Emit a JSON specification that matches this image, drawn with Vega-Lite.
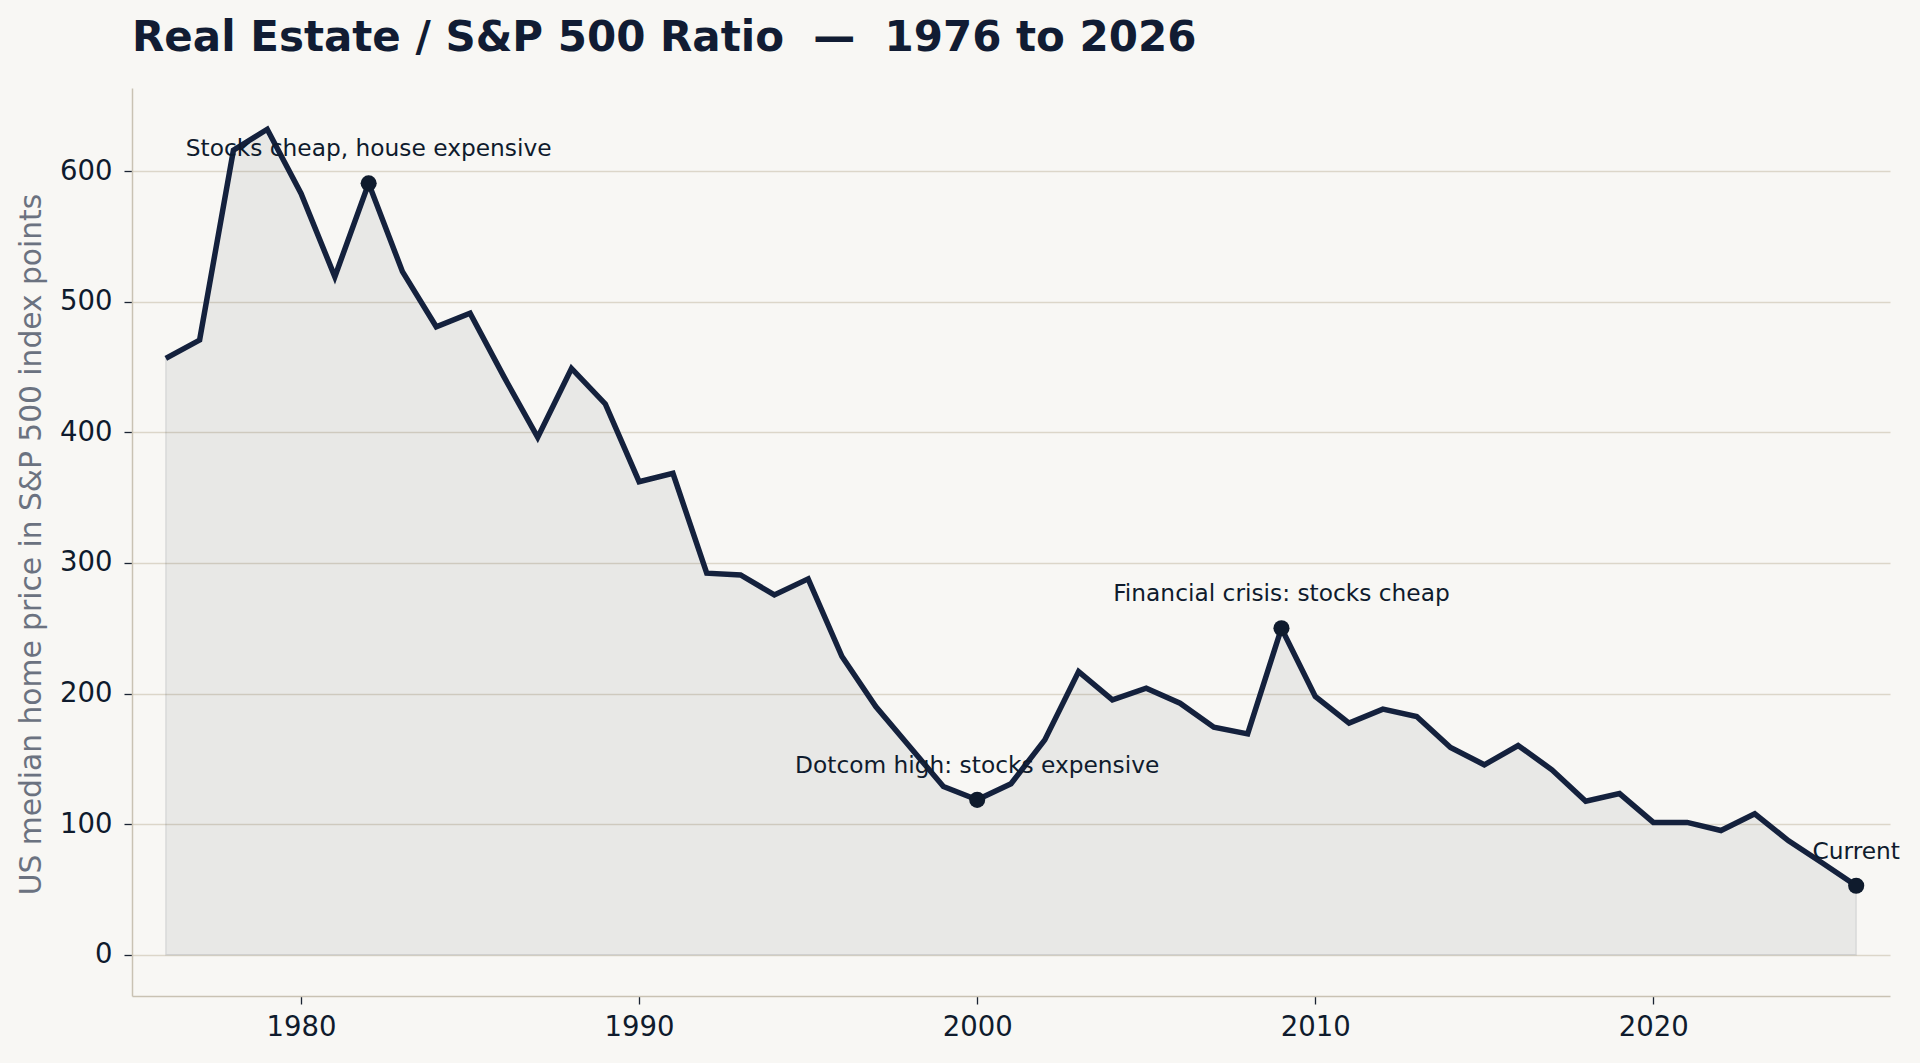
{
  "$schema": "https://vega.github.io/schema/vega-lite/v6.json",
  "autosize": {"type": "none"},
  "width": 1758,
  "height": 908,
  "padding": {"left": 132, "top": 88, "right": 30, "bottom": 67},
  "background": "#f8f7f4",
  "title": {
    "text": "Real Estate / S&P 500 Ratio \u00a0—\u00a0 1976 to 2026",
    "anchor": "start",
    "frame": "group",
    "font": "DejaVu Sans",
    "fontSize": 42,
    "fontWeight": "bold",
    "color": "#111c33",
    "baseline": "alphabetic",
    "offset": -5
  },
  "data": {
    "values": [
      {"year": 1976, "ratio": 456.6},
      {"year": 1977, "ratio": 470.6},
      {"year": 1978, "ratio": 616.0},
      {"year": 1979, "ratio": 632.0},
      {"year": 1980, "ratio": 582.9},
      {"year": 1981, "ratio": 519.1},
      {"year": 1982, "ratio": 590.6, "note": "Stocks cheap, house expensive"},
      {"year": 1983, "ratio": 523.0},
      {"year": 1984, "ratio": 480.8},
      {"year": 1985, "ratio": 491.1},
      {"year": 1986, "ratio": 442.6},
      {"year": 1987, "ratio": 396.1},
      {"year": 1988, "ratio": 448.9},
      {"year": 1989, "ratio": 421.7},
      {"year": 1990, "ratio": 362.2},
      {"year": 1991, "ratio": 368.6},
      {"year": 1992, "ratio": 292.1},
      {"year": 1993, "ratio": 290.8},
      {"year": 1994, "ratio": 275.5},
      {"year": 1995, "ratio": 287.8},
      {"year": 1996, "ratio": 228.3},
      {"year": 1997, "ratio": 190.0},
      {"year": 1998, "ratio": 159.4},
      {"year": 1999, "ratio": 128.8},
      {"year": 2000, "ratio": 118.6, "note": "Dotcom high: stocks expensive"},
      {"year": 2001, "ratio": 130.9},
      {"year": 2002, "ratio": 164.5},
      {"year": 2003, "ratio": 216.8},
      {"year": 2004, "ratio": 195.2},
      {"year": 2005, "ratio": 204.1},
      {"year": 2006, "ratio": 192.6},
      {"year": 2007, "ratio": 174.2},
      {"year": 2008, "ratio": 169.1},
      {"year": 2009, "ratio": 250.0, "note": "Financial crisis: stocks cheap"},
      {"year": 2010, "ratio": 197.7},
      {"year": 2011, "ratio": 177.3},
      {"year": 2012, "ratio": 188.0},
      {"year": 2013, "ratio": 182.4},
      {"year": 2014, "ratio": 158.7},
      {"year": 2015, "ratio": 145.4},
      {"year": 2016, "ratio": 160.2},
      {"year": 2017, "ratio": 141.6},
      {"year": 2018, "ratio": 117.5},
      {"year": 2019, "ratio": 123.4},
      {"year": 2020, "ratio": 101.3},
      {"year": 2021, "ratio": 101.3},
      {"year": 2022, "ratio": 95.1},
      {"year": 2023, "ratio": 107.9},
      {"year": 2024, "ratio": 87.2},
      {"year": 2025, "ratio": 70.2},
      {"year": 2026, "ratio": 52.8, "note": "Current"}
    ]
  },
  "encoding": {
    "x": {
      "field": "year",
      "type": "quantitative",
      "scale": {"domain": [1975, 2027], "nice": false, "zero": false},
      "axis": {
        "values": [1980, 1990, 2000, 2010, 2020],
        "format": "d",
        "title": null,
        "grid": false,
        "labelFontSize": 27.5,
        "labelPadding": 9,
        "tickSize": 8
      }
    },
    "y": {
      "field": "ratio",
      "type": "quantitative",
      "scale": {"domain": [-31.6, 663.6], "nice": false, "zero": false},
      "axis": {
        "values": [0, 100, 200, 300, 400, 500, 600],
        "title": "US median home price in S&P 500 index points",
        "titleFontSize": 29.7,
        "titleFontWeight": "normal",
        "titleColor": "#6b7280",
        "titleBaseline": "alphabetic",
        "titleX": -92,
        "titleY": 456,
        "grid": true,
        "labelFontSize": 27.5,
        "labelPadding": 12,
        "tickSize": 8
      }
    }
  },
  "layer": [
    {
      "mark": {
        "type": "area",
        "fill": "#1e2a3a",
        "fillOpacity": 0.07,
        "stroke": "#1e2a3a",
        "strokeOpacity": 0.1,
        "strokeWidth": 1.5
      }
    },
    {
      "mark": {"type": "line", "color": "#14213d", "strokeWidth": 5.5, "strokeJoin": "miter"}
    },
    {
      "transform": [{"filter": "isValid(datum.note)"}],
      "mark": {"type": "point", "filled": true, "size": 260, "color": "#0f1b2d", "opacity": 1}
    },
    {
      "transform": [{"filter": "isValid(datum.note)"}],
      "mark": {
        "type": "text",
        "font": "DejaVu Sans",
        "fontSize": 23.3,
        "color": "#0f1b2d",
        "align": "center",
        "baseline": "alphabetic",
        "dy": -27
      },
      "encoding": {"text": {"field": "note"}}
    }
  ],
  "config": {
    "view": {"stroke": null},
    "font": "DejaVu Sans",
    "axis": {
      "labelFont": "DejaVu Sans",
      "titleFont": "DejaVu Sans",
      "labelColor": "#0f1b2d",
      "domainColor": "#c9c2b3",
      "domainWidth": 1.5,
      "tickColor": "#1a2332",
      "tickWidth": 1.3,
      "gridColor": "#dcd6c9",
      "gridWidth": 1.3
    }
  }
}
